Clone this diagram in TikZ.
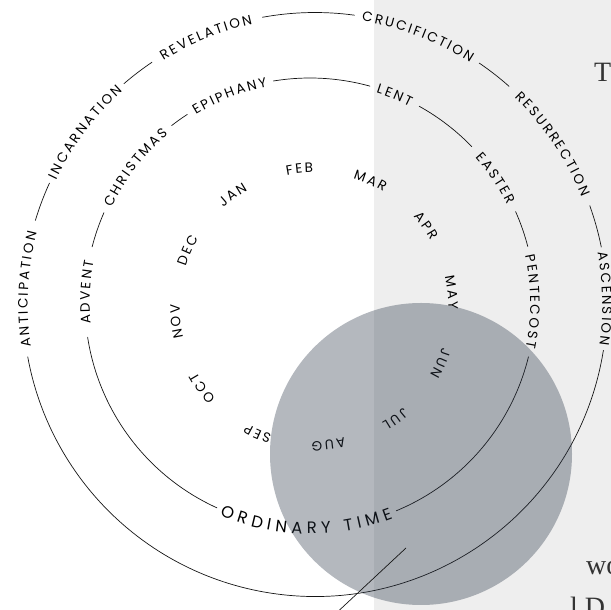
\documentclass[tikz,border=0pt]{standalone}
\usepackage{fontspec}
\setmainfont{Liberation Serif}
\newfontfamily\ringfont{Poppins}
\usepackage{tikz}
\usetikzlibrary{decorations.text}

\definecolor{panel}{HTML}{EEEEEE}
\definecolor{lens}{RGB}{40,52,69}
\definecolor{ink}{HTML}{151515}
\definecolor{bodytext}{HTML}{333333}

% letter-spaced lettering that runs clockwise round a ring
% #1 centre, #2 baseline radius, #3 mid angle, #4 tracking, #5 text
\newcommand{\cwtext}[5]{%
  \path[decorate, decoration={text effects along path, text={#5}, text align=center,
      text effects/.cd, text along path,
      character widths={inner xsep=#4},
      characters={anchor=base, inner xsep=#4, inner ysep=0pt}}]
    (#1) ++(#3+35:#2) arc[start angle=#3+35, end angle=#3-35, radius=#2];}

\tikzset{
  ring/.style={draw=ink, line width=0.7pt},
  pointer/.style={draw=ink, line width=0.7pt},
  bodyfont/.style={font=\fontsize{28}{34}\selectfont, text=bodytext, inner sep=0pt, anchor=base west},
}

\begin{document}
\begin{tikzpicture}[x=1pt, y=1pt]
  \useasboundingbox (0,0) rectangle (611,610);
  \fill[panel] (374,0) rectangle (611,610);

  % ---- centres of the rings ----
  \coordinate (oc) at (315,305.5);  % outer: the story
  \coordinate (ic) at (310,307);    % seasons
  \coordinate (mc) at (314,303);    % months

  % ---- outer ring ----
  \foreach \a/\b in {163.3/155.4, 130.9/123.9, 100.4/82.2, 55.8/48.3, 19.8/11.3, -9/-169.7}
    \draw[ring] (oc) ++(\a:292) arc[start angle=\a, end angle=\b, radius=292];

  % ---- seasons ring ----
  \foreach \a/\b in {165.6/156.3, 128/123, 99.4/74.5, 61/44, 24/14.5, -13.8/-67.5, -114.4/-171.3}
    \draw[ring] (ic) ++(\a:225) arc[start angle=\a, end angle=\b, radius=225];

  % baselines sit half a cap height inside the ring
  \begin{scope}[execute at begin scope={\ringfont\fontsize{13.5}{16}\selectfont}]
    \cwtext{oc}{287.3}{177}{1.1pt}{ANTICIPATION}
    \cwtext{oc}{287.3}{143.2}{1.1pt}{INCARNATION}
    \cwtext{oc}{287.3}{112.2}{1.1pt}{REVELATION}
    \cwtext{oc}{287.3}{69}{1.1pt}{CRUCIFICTION}
    \cwtext{oc}{287.3}{34}{1.1pt}{RESURRECTION}
    \cwtext{oc}{287.3}{1.2}{1.1pt}{ASCENSION}

    \cwtext{ic}{220.3}{177.2}{1.1pt}{ADVENT}
    \cwtext{ic}{220.3}{142.2}{1.1pt}{CHRISTMAS}
    \cwtext{ic}{220.3}{111.2}{1.1pt}{EPIPHANY}
    \cwtext{ic}{220.3}{67.8}{1.1pt}{LENT}
    \cwtext{ic}{220.3}{34}{1.1pt}{EASTER}
    \cwtext{ic}{220.3}{0.4}{1.1pt}{PENTECOST}
  \end{scope}

  % ordinary time reads the other way round, along the bottom
  \begin{scope}[execute at begin scope={\ringfont\fontsize{16.5}{19}\selectfont}]
    \path[decorate, decoration={text effects along path, text={ORDINARY TIME}, text align=center,
        text effects/.cd, text along path,
        character widths={inner xsep=2.35pt},
        characters={anchor=base, inner xsep=2.35pt, inner ysep=0pt}}]
      (ic) ++(-136:230.8) arc[start angle=-136, end angle=-46, radius=230.8];
  \end{scope}

  % ---- months ----
  \begin{scope}[execute at begin scope={\ringfont\fontsize{13.5}{16}\selectfont}]
    \foreach \mon [count=\i from 0] in {JAN,FEB,MAR,APR,MAY,JUN,JUL,AUG,SEP,OCT,NOV,DEC}{
      \pgfmathsetmacro{\monang}{126-30*\i}
      \path[decorate, decoration={text effects along path, text/.expanded=\mon, text align=center,
          text effects/.cd, text along path,
          character widths={inner xsep=1.1pt},
          characters={anchor=base, inner xsep=1.1pt, inner ysep=0pt}}]
        (mc) ++(\monang+20:134.3) arc[start angle=\monang+20, end angle=\monang-20, radius=134.3];
    }
  \end{scope}

  % ---- lens over the summer months ----
  \fill[lens, fill opacity=0.35] (421,156) circle[radius=151];
  \coordinate (ptip) at (406,62);
  \coordinate (ptail) at (331,-8);
  \draw[pointer] (ptip) -- (ptail);

  % ---- running text beside the wheel ----
  \node[bodyfont] (lineT) at (594,528) {T};
  \node[bodyfont] (lineWo) at (586,35) {wo};
  \node[bodyfont] (lineLD) at (570,-7) {l D};
\end{tikzpicture}
\end{document}
